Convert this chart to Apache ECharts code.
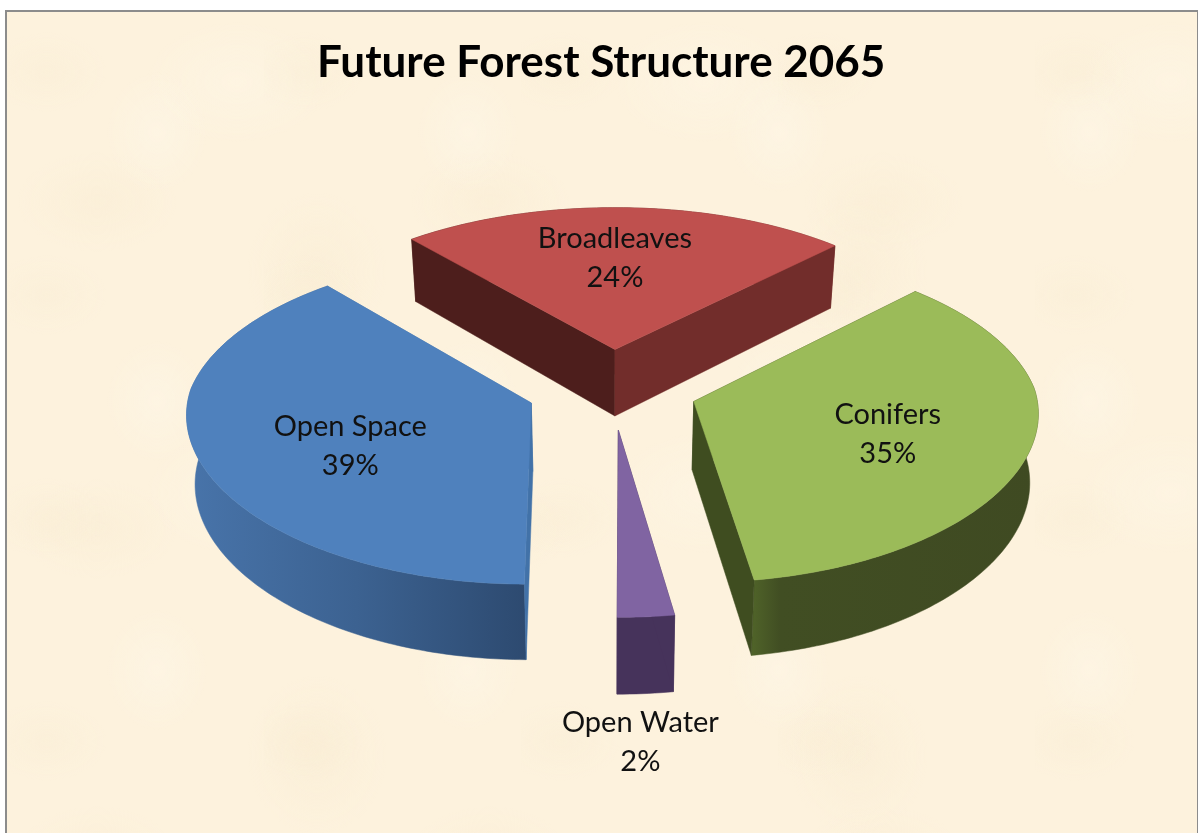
<!DOCTYPE html>
<html>
<head>
<meta charset="utf-8">
<title>Future Forest Structure 2065</title>
<script src="https://cdn.jsdelivr.net/npm/echarts@6/dist/echarts.min.js"></script>
<style>
    html, body {margin: 0; padding: 0; width: 100%; height: 100%; background: #fff; overflow: hidden;}
    #frame {
        position: absolute; left: 5px; top: 10px; width: 1190px; height: 830px;
        border: 2px solid #8c8c8c;
        background-color: #fdf2dd;
        background-image:
            radial-gradient(ellipse 60px 40px at 40px 60px, rgba(246,232,204,.22), transparent),
            radial-gradient(ellipse 50px 60px at 150px 120px, rgba(255,250,240,.3), transparent),
            radial-gradient(ellipse 80px 50px at 90px 190px, rgba(246,230,200,.22), transparent),
            radial-gradient(ellipse 90px 60px at 230px 70px, rgba(255,249,236,.3), transparent),
            radial-gradient(ellipse 70px 80px at 310px 260px, rgba(245,229,199,.22), transparent);
        background-size: 257px 223px, 311px 269px, 393px 327px, 467px 411px, 541px 483px;
    }
    #chart {position: absolute; left: 0; top: 0; width: 1198px; height: 833px;}
</style>
</head>
<body>
<div id="frame"></div>
<div id="chart"></div>
<script>
// clockwise from the start angle, values are shares in percent
const categories = ['Conifers', 'Open Water', 'Open Space', 'Broadleaves'];
const shares = [35.25, 2.49, 38.71, 23.55];

const topColors = ['#9bbb59', '#8064a2', '#4f81bd', '#bf504e'];
const outerWall = [
    [[0, '#506429'], [0.1, '#414e23'], [1, '#3f4a22']],
    [[0, '#46335b'], [1, '#46335b']],
    [[0, '#4874aa'], [0.5, '#3c6291'], [1, '#2d4a70']],
    [[0, '#4d1e1c'], [1, '#722d2b']]
];
// wall on the start edge and on the end edge of each slice
const edgeWalls = [
    ['#3f4a22', '#3f4d20'],
    ['#46335b', '#46335b'],
    ['#4272a8', '#4272a8'],
    ['#4d1e1c', '#722d2b']
];
const labelOffset = [[194, 33], [22, 312], [-181, 43], [0, -91]];
// back to front
const drawOrder = [3, 2, 0, 1];

const START_ANGLE = 44.4;
const CX = 612, CY = 389;
const R = 342, TILT = 0.473, EXPLODE = 0.25;
const PERSP_NEAR = 0.06, PERSP_FAR = 0.09, PERSP_Y = 0.092;
const DEPTH = 68, BOTTOM_SHRINK = 0.98;

// ground point (x right, y towards viewer) to screen
function project(x, y, low) {
    const sx = 1 / (1 - (y < 0 ? PERSP_FAR : PERSP_NEAR) * y);
    const sy = 1 / (1 - PERSP_Y * y);
    const k = low ? BOTTOM_SHRINK : 1;
    return [
        CX + x * R * sx * k,
        CY + y * R * TILT * sy + (low ? DEPTH * sy : 0)
    ];
}

function sliceGeometry(idx) {
    let before = 0;
    for (let i = 0; i < idx; i++) before += shares[i];
    const a0 = START_ANGLE + before * 3.6;
    const a1 = a0 + shares[idx] * 3.6;
    const mid = (a0 + a1) / 2 * Math.PI / 180;
    const ox = Math.sin(mid) * EXPLODE, oy = -Math.cos(mid) * EXPLODE;
    const arc = [];
    for (let a = a0; ; a += 1) {
        const t = Math.min(a, a1) * Math.PI / 180;
        arc.push([ox + Math.sin(t), oy - Math.cos(t)]);
        if (a >= a1) break;
    }
    return {apex: [ox, oy], arc};
}

function renderSlice(params, api) {
    const idx = api.value(0);
    const {apex, arc} = sliceGeometry(idx);
    const up = p => project(p[0], p[1], false);
    const low = p => project(p[0], p[1], true);
    const first = arc[0], last = arc[arc.length - 1];

    const wallPts = arc.map(up).concat(arc.slice().reverse().map(low));
    const stops = outerWall[idx].map(s => ({offset: s[0], color: s[1]}));
    const poly = (points, fill) => ({type: 'polygon', shape: {points}, style: {fill, stroke: fill, lineWidth: 0.5}});

    const children = [
        poly(wallPts, new echarts.graphic.LinearGradient(0, 0, 1, 0, stops)),
        poly([up(apex), up(first), low(first), low(apex)], edgeWalls[idx][0]),
        poly([up(apex), up(last), low(last), low(apex)], edgeWalls[idx][1]),
        poly([up(apex)].concat(arc.map(up)), topColors[idx])
    ];
    const a = up(apex);
    children.push({
        type: 'text',
        style: {
            x: a[0] + labelOffset[idx][0],
            y: a[1] + labelOffset[idx][1],
            text: categories[idx] + '\n' + Math.round(shares[idx]) + '%',
            fill: '#111',
            font: '29px Lato',
            lineHeight: 39,
            align: 'center',
            verticalAlign: 'middle'
        },
        z2: 10
    });
    return {type: 'group', children};
}

const chart = echarts.init(document.getElementById('chart'));
chart.setOption({
    animation: false,
    title: {
        text: 'Future Forest Structure 2065',
        left: 312,
        top: 36,
        textStyle: {fontFamily: 'Lato', fontWeight: 'bold', fontSize: 44, color: '#000'}
    },
    series: [{
        type: 'custom',
        coordinateSystem: 'none',
        silent: true,
        renderItem: renderSlice,
        data: drawOrder.map(i => [i])
    }]
});
</script>
</body>
</html>
